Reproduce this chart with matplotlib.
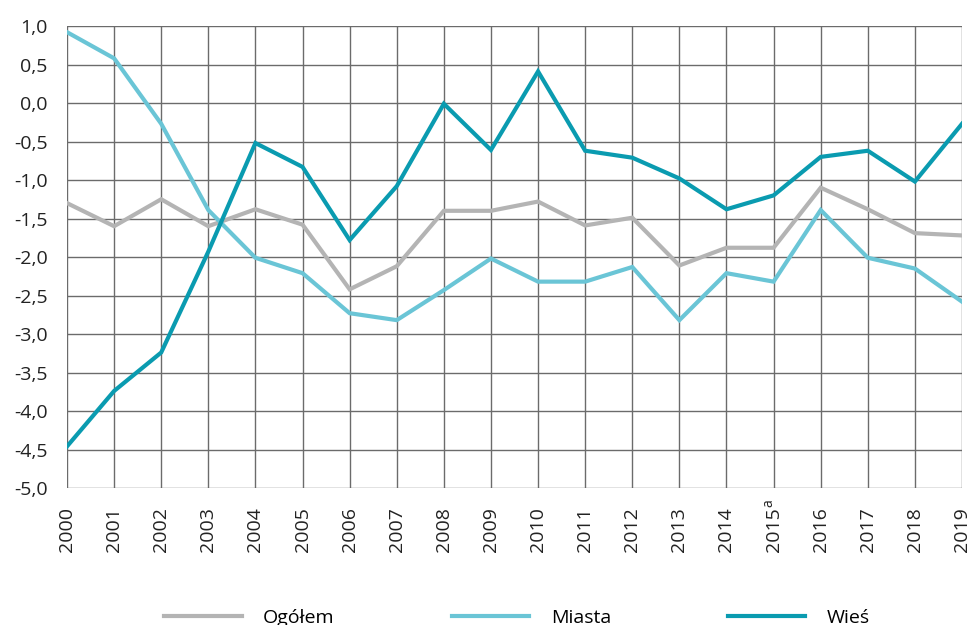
import matplotlib
matplotlib.use("Agg")
import matplotlib.pyplot as plt
import matplotlib.transforms as mtransforms

plt.rcParams['font.family'] = ['Open Sans', 'DejaVu Sans']

years = list(range(2000, 2020))
year_labels = [str(y) for y in years]

ogolem = [-1.30, -1.60, -1.25, -1.60, -1.38, -1.58, -2.42, -2.12, -1.40, -1.40,
          -1.28, -1.59, -1.49, -2.11, -1.88, -1.88, -1.10, -1.38, -1.69, -1.72]
miasta = [0.92, 0.58, -0.27, -1.39, -2.01, -2.21, -2.73, -2.82, -2.43, -2.02,
          -2.32, -2.32, -2.13, -2.82, -2.21, -2.32, -1.39, -2.01, -2.15, -2.58]
wies = [-4.46, -3.74, -3.24, -1.93, -0.52, -0.83, -1.78, -1.08, -0.01, -0.61,
        0.41, -0.62, -0.71, -0.98, -1.38, -1.20, -0.70, -0.62, -1.02, -0.27]

y_ticks = [1.0, 0.5, 0.0, -0.5, -1.0, -1.5, -2.0, -2.5, -3.0, -3.5, -4.0, -4.5, -5.0]

c_ogolem = '#b4b4b4'
c_miasta = '#6ac5d6'
c_wies = '#0a9bb0'

fig = plt.figure(figsize=(9.71, 6.25), dpi=100)
ax = fig.add_axes([67 / 971, 1 - 488 / 625, (962 - 67) / 971, (488 - 26) / 625])

ax.plot(years, ogolem, color=c_ogolem, lw=3, label='Ogółem', solid_joinstyle='miter')
ax.plot(years, miasta, color=c_miasta, lw=3, label='Miasta', solid_joinstyle='miter')
ax.plot(years, wies, color=c_wies, lw=3, label='Wieś', solid_joinstyle='miter')

ax.set_xlim(2000, 2019)
ax.set_ylim(-5.0, 1.0)
ax.set_yticks(y_ticks)
ax.set_yticklabels([f"{v:.1f}".replace('.', ',') for v in y_ticks])
ax.set_xticks(years)
ax.set_xticklabels(year_labels, rotation=90)

ax.grid(True, color='#6b6b6b', lw=1)
ax.set_axisbelow(True)
for s in ax.spines.values():
    s.set_visible(False)
ax.tick_params(axis='both', length=0, labelsize=14, colors='#222222')
ax.tick_params(axis='y', pad=14)
ax.tick_params(axis='x', pad=14)

# superscript "a" next to 2015 (shifted left = "up" for rotated text)
trans = mtransforms.blended_transform_factory(ax.transData, fig.transFigure)
trans = trans + mtransforms.ScaledTranslation(-5 / 100, 0, fig.dpi_scale_trans)
ax.text(2015, 1 - 503 / 625, 'a', transform=trans, rotation=90, fontsize=10,
        ha='center', va='center', color='#222222')

fig.legend(loc='center', bbox_to_anchor=(517 / 971, 7 / 625), ncol=3, frameon=False,
           fontsize=14, handlelength=4.0, handletextpad=1.1, columnspacing=6.0)

fig.savefig('out.png', dpi=100)
